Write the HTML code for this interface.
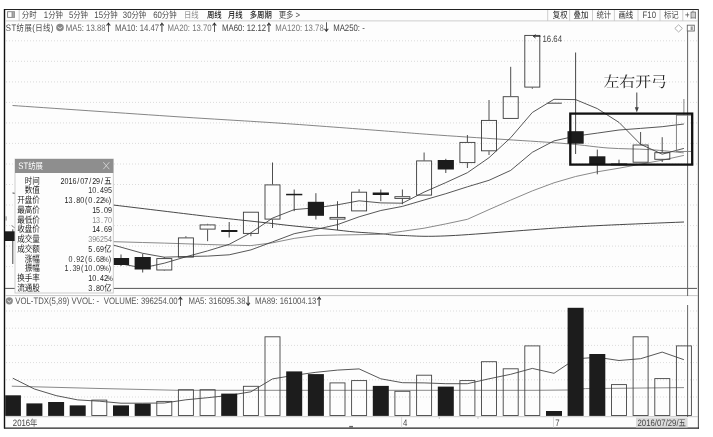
<!DOCTYPE html>
<html lang="zh"><head><meta charset="utf-8"><title>ST纺展(日线)</title>
<style>html,body{margin:0;padding:0;background:#fff}body{width:713px;height:437px;overflow:hidden}svg{display:block;text-rendering:geometricPrecision}text{font-family:"Liberation Sans","Noto Sans CJK SC",sans-serif}.ann{font-family:"Liberation Serif","Noto Serif CJK SC",serif;font-size:16.5px;fill:#222}</style></head><body>
<svg width="713" height="437" viewBox="0 0 713 437" style="will-change:transform">
<rect width="713" height="437" fill="#fff"/>
<rect x="5" y="9.5" width="693" height="418.5" fill="#fdfdfd"/>
<g stroke="#d2d2d2" stroke-width="0.8" stroke-dasharray="1 2"><line x1="6" x2="697" y1="40.8" y2="40.8"/><line x1="6" x2="697" y1="61.3" y2="61.3"/><line x1="6" x2="697" y1="81.9" y2="81.9"/><line x1="6" x2="697" y1="102.4" y2="102.4"/><line x1="6" x2="697" y1="122.9" y2="122.9"/><line x1="6" x2="697" y1="143.4" y2="143.4"/><line x1="6" x2="697" y1="164.0" y2="164.0"/><line x1="6" x2="697" y1="184.5" y2="184.5"/><line x1="6" x2="697" y1="205.0" y2="205.0"/><line x1="6" x2="697" y1="225.6" y2="225.6"/><line x1="6" x2="697" y1="246.1" y2="246.1"/><line x1="6" x2="697" y1="266.6" y2="266.6"/><line x1="6" x2="697" y1="311.0" y2="311.0"/><line x1="6" x2="697" y1="328.2" y2="328.2"/><line x1="6" x2="697" y1="345.4" y2="345.4"/><line x1="6" x2="697" y1="362.6" y2="362.6"/><line x1="6" x2="697" y1="379.8" y2="379.8"/><line x1="6" x2="697" y1="397.0" y2="397.0"/></g>
<line x1="4" x2="699" y1="9.5" y2="9.5" stroke="#222" stroke-width="1.2"/>
<line x1="4.5" x2="4.5" y1="9" y2="428.5" stroke="#111" stroke-width="1.4"/>
<line x1="698.4" x2="698.4" y1="9" y2="428.5" stroke="#555" stroke-width="1.1"/>
<line x1="4" x2="699" y1="428.1" y2="428.1" stroke="#222" stroke-width="1.3"/>
<line x1="5" x2="698" y1="20.9" y2="20.9" stroke="#c8c8c8" stroke-width="0.9"/>
<line x1="5" x2="697" y1="288.4" y2="288.4" stroke="#555" stroke-width="1"/>
<line x1="5" x2="698" y1="295.6" y2="295.6" stroke="#bdbdbd" stroke-width="0.9"/>
<line x1="5" x2="698" y1="416.7" y2="416.7" stroke="#bbb" stroke-width="0.8"/>
<path d="M687.6,31 V296 M687.6,305 V417" stroke="#666" stroke-width="1" fill="none"/>
<line x1="19.2" x2="19.2" y1="10" y2="21" stroke="#c8c8c8" stroke-width="0.9"/>
<line x1="547.7" x2="547.7" y1="10" y2="21" stroke="#c8c8c8" stroke-width="0.9"/>
<line x1="569.6" x2="569.6" y1="10" y2="21" stroke="#c8c8c8" stroke-width="0.9"/>
<line x1="592.5" x2="592.5" y1="10" y2="21" stroke="#c8c8c8" stroke-width="0.9"/>
<line x1="614.4" x2="614.4" y1="10" y2="21" stroke="#c8c8c8" stroke-width="0.9"/>
<line x1="638.0" x2="638.0" y1="10" y2="21" stroke="#c8c8c8" stroke-width="0.9"/>
<line x1="660.0" x2="660.0" y1="10" y2="21" stroke="#c8c8c8" stroke-width="0.9"/>
<line x1="682.8" x2="682.8" y1="10" y2="21" stroke="#c8c8c8" stroke-width="0.9"/>
<rect x="7.6" y="11.7" width="6.9" height="5.7" fill="none" stroke="#808080" stroke-width="0.9"/><rect x="12" y="12" width="2.4" height="5.2" fill="#a8a8a8"/><line x1="12" x2="12" y1="12" y2="17.2" stroke="#808080" stroke-width="0.8"/>
<text transform="translate(21.8,17.9) scale(0.83,1)" font-size="8.9" fill="#4a4a4a">分时</text>
<text transform="translate(43.8,17.9) scale(0.83,1)" font-size="8.9" fill="#4a4a4a"><tspan font-size="9.4">1</tspan>分钟</text>
<text transform="translate(68.9,17.9) scale(0.83,1)" font-size="8.9" fill="#4a4a4a"><tspan font-size="9.4">5</tspan>分钟</text>
<text transform="translate(94.3,17.9) scale(0.83,1)" font-size="8.9" fill="#4a4a4a"><tspan font-size="9.4">15</tspan>分钟</text>
<text transform="translate(122.8,17.9) scale(0.83,1)" font-size="8.9" fill="#4a4a4a"><tspan font-size="9.4">30</tspan>分钟</text>
<text transform="translate(153.2,17.9) scale(0.83,1)" font-size="8.9" fill="#4a4a4a"><tspan font-size="9.4">60</tspan>分钟</text>
<text transform="translate(184.0,17.9) scale(0.83,1)" font-size="8.9" fill="#8a8a8a">日线</text>
<text transform="translate(207.0,17.9) scale(0.83,1)" font-size="8.9" fill="#222" font-weight="500">周线</text>
<text transform="translate(228.0,17.9) scale(0.83,1)" font-size="8.9" fill="#222" font-weight="500">月线</text>
<text transform="translate(249.7,17.9) scale(0.83,1)" font-size="8.9" fill="#222" font-weight="500">多周期</text>
<text transform="translate(278.7,17.9) scale(0.83,1)" font-size="8.9" fill="#4a4a4a">更多<tspan font-size="9.4"> &gt;</tspan></text>
<text transform="translate(552.8,17.9) scale(0.83,1)" font-size="8.9" fill="#222">复权</text>
<text transform="translate(573.6,17.9) scale(0.83,1)" font-size="8.9" fill="#222">叠加</text>
<text transform="translate(596.4,17.9) scale(0.83,1)" font-size="8.9" fill="#4a4a4a">统计</text>
<text transform="translate(618.5,17.9) scale(0.83,1)" font-size="8.9" fill="#222">画线</text>
<text transform="translate(642.6,17.9) scale(0.83,1)" font-size="8.9" fill="#4a4a4a"><tspan font-size="9.4">F10</tspan></text>
<text transform="translate(664.0,17.9) scale(0.83,1)" font-size="8.9" fill="#4a4a4a">标记</text>
<text transform="translate(685.0,17.9) scale(0.83,1)" font-size="8.9" fill="#4a4a4a"><tspan font-size="9.4">+</tspan>自</text>
<text transform="translate(5.8,30.8) scale(0.83,1)" font-size="8.9" fill="#444" textLength="57.3"><tspan font-size="9.4">ST</tspan>纺展<tspan font-size="9.4">(</tspan>日线<tspan font-size="9.4">)</tspan></text>
<circle cx="60" cy="27.5" r="3.8" fill="#8a8a8a"/><polyline points="58,26.8 60,28.8 62,26.8" fill="none" stroke="#fff" stroke-width="0.9"/>
<text transform="translate(65.8,30.8) scale(0.83,1)" font-size="8.9" fill="#666"><tspan font-size="9.4">MA5: 13.88</tspan><tspan fill="#222" font-size="10" dx="-1.7" dy="0.4" stroke="#222" stroke-width="0.25" style="font-family:'Noto Sans CJK SC',sans-serif">↑</tspan></text>
<text transform="translate(115.0,30.8) scale(0.83,1)" font-size="8.9" fill="#555"><tspan font-size="9.4">MA10: 14.47</tspan><tspan fill="#222" font-size="10" dx="-1.7" dy="0.4" stroke="#222" stroke-width="0.25" style="font-family:'Noto Sans CJK SC',sans-serif">↑</tspan></text>
<text transform="translate(167.5,30.8) scale(0.83,1)" font-size="8.9" fill="#777"><tspan font-size="9.4">MA20: 13.70</tspan><tspan fill="#222" font-size="10" dx="-1.7" dy="0.4" stroke="#222" stroke-width="0.25" style="font-family:'Noto Sans CJK SC',sans-serif">↑</tspan></text>
<text transform="translate(222.0,30.8) scale(0.83,1)" font-size="8.9" fill="#444"><tspan font-size="9.4">MA60: 12.12</tspan><tspan fill="#222" font-size="10" dx="-1.7" dy="0.4" stroke="#222" stroke-width="0.25" style="font-family:'Noto Sans CJK SC',sans-serif">↑</tspan></text>
<text transform="translate(275.3,30.8) scale(0.83,1)" font-size="8.9" fill="#777"><tspan font-size="9.4">MA120: 13.78</tspan><tspan fill="#222" font-size="10" dx="-1.7" dy="0.4" stroke="#222" stroke-width="0.25" style="font-family:'Noto Sans CJK SC',sans-serif">↓</tspan></text>
<text transform="translate(333.2,30.8) scale(0.83,1)" font-size="8.9" fill="#444"><tspan font-size="9.4">MA250: -</tspan><tspan fill="#222" font-size="10" dx="-1.7" dy="0.4" stroke="#222" stroke-width="0.25" style="font-family:'Noto Sans CJK SC',sans-serif"></tspan></text>
<polygon points="678.6,24.8 682.4,28.4 678.6,32 674.8,28.4" fill="#fff" stroke="#999" stroke-width="0.8"/>
<rect x="687.3" y="25.2" width="7" height="5.8" fill="#fff" stroke="#666" stroke-width="0.9"/><rect x="690.6" y="26.4" width="2.2" height="3.6" fill="#999"/>
<path fill="none" stroke="#777" stroke-width="0.9" d="M12.5,105.5 C40.1,107.4 133.4,113.8 178.0,116.8 C222.6,119.7 246.3,120.9 280.0,123.2 C313.7,125.5 355.0,128.7 380.0,130.6 C405.0,132.5 409.2,133.0 430.0,134.5 C450.8,136.0 482.0,138.0 505.0,139.5 C528.0,141.0 550.8,142.3 568.0,143.8 C585.2,145.2 594.4,147.0 608.0,148.0 C621.6,149.0 636.9,148.8 649.5,149.6 C662.1,150.4 678.1,152.3 683.8,152.9"/>
<path fill="none" stroke="#333" stroke-width="0.9" d="M12.5,193.0 C29.4,195.0 82.7,201.3 113.9,205.1 C145.2,208.8 182.3,213.4 200.0,215.5 C217.7,217.6 210.2,216.7 220.0,217.8 C229.8,218.9 246.3,220.6 259.0,222.0 C271.7,223.4 284.2,225.0 296.0,226.2 C307.8,227.4 320.1,228.3 330.0,229.3 C339.9,230.3 346.9,231.3 355.4,232.0 C363.9,232.7 373.2,233.1 380.8,233.7 C388.4,234.3 389.5,235.1 401.0,235.4 C412.5,235.7 421.5,237.1 450.0,235.7 C478.5,234.3 533.0,229.3 572.0,227.0 C611.0,224.7 665.3,222.8 684.0,222.0"/>
<polyline fill="none" stroke="#8a8a8a" stroke-width="1.0" points="11.5,225.6 15.0,228.0 113.9,241.7 121.0,241.9 142.7,242.5 164.3,243.1 185.9,243.8 207.6,244.5 229.2,245.1 250.9,245.6 272.5,242.8 294.2,238.4 315.9,235.5 337.5,235.0 359.1,234.7 380.8,234.3 402.4,231.3 424.1,228.2 445.8,223.9 467.4,219.3 489.0,209.6 510.7,200.1 532.3,190.9 554.0,182.8 575.6,176.5 597.3,171.8 619.0,168.2 640.6,164.2 662.2,160.2 683.9,155.4"/>
<polyline fill="none" stroke="#444" stroke-width="0.9" points="99.3,241.2 121.0,247.2 142.7,253.3 164.3,257.2 185.9,256.5 207.6,256.1 229.2,254.8 250.9,249.9 272.5,241.9 294.2,233.7 315.9,229.4 337.5,224.6 359.1,216.8 380.8,210.5 402.4,206.4 424.1,200.0 445.8,193.7 467.4,186.8 489.0,180.3 510.7,170.4 532.3,152.3 554.0,140.9 575.6,136.1 597.3,133.1 619.0,130.0 640.6,128.4 662.2,126.7 683.9,124.0"/>
<polyline fill="none" stroke="#444" stroke-width="0.9" points="99.3,258.5 121.0,263.9 142.7,267.9 164.3,263.2 185.9,256.8 207.6,250.9 229.2,244.3 250.9,232.8 272.5,218.1 294.2,209.6 315.9,207.8 337.5,204.8 359.1,200.8 380.8,202.9 402.4,203.2 424.1,192.1 445.8,182.6 467.4,172.7 489.0,157.7 510.7,137.7 532.3,112.5 554.0,99.3 575.6,99.6 597.3,108.6 619.0,122.4 640.6,144.3 662.2,154.2 683.9,148.4"/>
<line x1="12.8" x2="12.8" y1="229.3" y2="264.0" stroke="#333" stroke-width="0.9"/>
<rect x="5.0" y="231.3" width="15.6" height="9.7" fill="#1c1c1c"/>
<line x1="121.0" x2="121.0" y1="254.5" y2="266.0" stroke="#333" stroke-width="0.9"/>
<rect x="112.9" y="258.0" width="16.2" height="7.0" fill="#1c1c1c"/>
<line x1="142.7" x2="142.7" y1="253.8" y2="272.5" stroke="#333" stroke-width="0.9"/>
<rect x="134.6" y="257.0" width="16.2" height="12.5" fill="#1c1c1c"/>
<line x1="164.3" x2="164.3" y1="257.0" y2="258.2" stroke="#3a3a3a" stroke-width="0.9"/>
<line x1="164.3" x2="164.3" y1="270.5" y2="271.0" stroke="#3a3a3a" stroke-width="0.9"/>
<rect x="156.8" y="258.6" width="15.0" height="11.4" fill="none" stroke="#3a3a3a" stroke-width="0.9"/>
<line x1="185.9" x2="185.9" y1="236.2" y2="237.5" stroke="#3a3a3a" stroke-width="0.9"/>
<rect x="178.4" y="237.9" width="15.0" height="19.2" fill="none" stroke="#3a3a3a" stroke-width="0.9"/>
<line x1="207.6" x2="207.6" y1="223.8" y2="224.5" stroke="#3a3a3a" stroke-width="0.9"/>
<line x1="207.6" x2="207.6" y1="229.5" y2="241.2" stroke="#3a3a3a" stroke-width="0.9"/>
<rect x="200.1" y="224.9" width="15.0" height="4.2" fill="none" stroke="#3a3a3a" stroke-width="0.9"/>
<line x1="229.2" x2="229.2" y1="222.0" y2="237.5" stroke="#333" stroke-width="0.9"/>
<rect x="221.2" y="230.0" width="16.2" height="2.0" fill="#1c1c1c"/>
<line x1="250.9" x2="250.9" y1="233.8" y2="236.2" stroke="#3a3a3a" stroke-width="0.9"/>
<rect x="243.4" y="212.2" width="15.0" height="21.2" fill="none" stroke="#3a3a3a" stroke-width="0.9"/>
<line x1="272.5" x2="272.5" y1="162.5" y2="184.5" stroke="#3a3a3a" stroke-width="0.9"/>
<line x1="272.5" x2="272.5" y1="219.5" y2="228.0" stroke="#3a3a3a" stroke-width="0.9"/>
<rect x="265.0" y="184.9" width="15.0" height="34.2" fill="none" stroke="#3a3a3a" stroke-width="0.9"/>
<line x1="294.2" x2="294.2" y1="189.5" y2="211.2" stroke="#333" stroke-width="0.9"/>
<rect x="286.1" y="193.8" width="16.2" height="1.5" fill="#1c1c1c"/>
<line x1="315.9" x2="315.9" y1="193.2" y2="219.5" stroke="#333" stroke-width="0.9"/>
<rect x="307.8" y="201.8" width="16.2" height="14.0" fill="#1c1c1c"/>
<line x1="337.5" x2="337.5" y1="201.2" y2="217.0" stroke="#3a3a3a" stroke-width="0.9"/>
<line x1="337.5" x2="337.5" y1="219.5" y2="230.0" stroke="#3a3a3a" stroke-width="0.9"/>
<rect x="330.0" y="217.4" width="15.0" height="1.7" fill="none" stroke="#3a3a3a" stroke-width="0.9"/>
<line x1="359.1" x2="359.1" y1="189.2" y2="191.8" stroke="#3a3a3a" stroke-width="0.9"/>
<rect x="351.6" y="192.2" width="15.0" height="18.7" fill="none" stroke="#3a3a3a" stroke-width="0.9"/>
<line x1="380.8" x2="380.8" y1="189.5" y2="201.2" stroke="#333" stroke-width="0.9"/>
<rect x="372.7" y="192.5" width="16.2" height="2.5" fill="#1c1c1c"/>
<line x1="402.4" x2="402.4" y1="189.5" y2="196.2" stroke="#3a3a3a" stroke-width="0.9"/>
<line x1="402.4" x2="402.4" y1="198.8" y2="204.2" stroke="#3a3a3a" stroke-width="0.9"/>
<rect x="394.9" y="196.7" width="15.0" height="1.7" fill="none" stroke="#3a3a3a" stroke-width="0.9"/>
<line x1="424.1" x2="424.1" y1="152.5" y2="160.5" stroke="#3a3a3a" stroke-width="0.9"/>
<rect x="416.6" y="160.9" width="15.0" height="34.2" fill="none" stroke="#3a3a3a" stroke-width="0.9"/>
<line x1="445.8" x2="445.8" y1="158.8" y2="173.0" stroke="#333" stroke-width="0.9"/>
<rect x="437.7" y="160.0" width="16.2" height="9.5" fill="#1c1c1c"/>
<line x1="467.4" x2="467.4" y1="135.0" y2="142.0" stroke="#3a3a3a" stroke-width="0.9"/>
<line x1="467.4" x2="467.4" y1="163.0" y2="168.0" stroke="#3a3a3a" stroke-width="0.9"/>
<rect x="459.9" y="142.4" width="15.0" height="20.2" fill="none" stroke="#3a3a3a" stroke-width="0.9"/>
<line x1="489.0" x2="489.0" y1="100.0" y2="120.0" stroke="#3a3a3a" stroke-width="0.9"/>
<line x1="489.0" x2="489.0" y1="151.2" y2="155.0" stroke="#3a3a3a" stroke-width="0.9"/>
<rect x="481.5" y="120.4" width="15.0" height="30.4" fill="none" stroke="#3a3a3a" stroke-width="0.9"/>
<line x1="510.7" x2="510.7" y1="66.8" y2="96.2" stroke="#3a3a3a" stroke-width="0.9"/>
<rect x="503.2" y="96.7" width="15.0" height="21.7" fill="none" stroke="#3a3a3a" stroke-width="0.9"/>
<line x1="532.3" x2="532.3" y1="87.5" y2="88.8" stroke="#3a3a3a" stroke-width="0.9"/>
<rect x="524.8" y="35.4" width="15.0" height="51.7" fill="none" stroke="#3a3a3a" stroke-width="0.9"/>
<line x1="575.6" x2="575.6" y1="52.5" y2="154.0" stroke="#333" stroke-width="0.9"/>
<rect x="567.5" y="131.2" width="16.2" height="12.5" fill="#1c1c1c"/>
<line x1="597.3" x2="597.3" y1="149.6" y2="174.3" stroke="#333" stroke-width="0.9"/>
<rect x="589.2" y="156.3" width="16.2" height="8.5" fill="#1c1c1c"/>
<line x1="619.0" x2="619.0" y1="159.7" y2="165.3" stroke="#333" stroke-width="0.9"/>
<rect x="610.9" y="163.5" width="16.2" height="1.8" fill="#1c1c1c"/>
<line x1="640.6" x2="640.6" y1="132.0" y2="144.6" stroke="#3a3a3a" stroke-width="0.9"/>
<rect x="633.1" y="145.0" width="15.0" height="17.2" fill="none" stroke="#3a3a3a" stroke-width="0.9"/>
<line x1="662.2" x2="662.2" y1="137.2" y2="152.3" stroke="#3a3a3a" stroke-width="0.9"/>
<line x1="662.2" x2="662.2" y1="159.7" y2="162.0" stroke="#3a3a3a" stroke-width="0.9"/>
<rect x="654.8" y="152.7" width="15.0" height="6.6" fill="none" stroke="#3a3a3a" stroke-width="0.9"/>
<line x1="683.9" x2="683.9" y1="99.0" y2="114.8" stroke="#777" stroke-width="0.9"/>
<rect x="676.4" y="115.2" width="15.0" height="36.2" fill="none" stroke="#777" stroke-width="0.9"/>
<line x1="547.5" x2="561.8" y1="103.2" y2="103.2" stroke="#444" stroke-width="1"/>
<text transform="translate(542.5,41.8) scale(0.83,1)" font-size="8.9" fill="#444"><tspan font-size="9.4">16.64</tspan></text>
<path d="M540.5,36.3 H533.4 M535.6,34.6 L533.4,36.3 L535.6,38" fill="none" stroke="#222" stroke-width="0.9"/>
<rect x="570.3" y="113.6" width="121.9" height="51" fill="none" stroke="#111" stroke-width="2.3"/>
<text class="ann" transform="translate(603.4,86.5) scale(1,0.94)" style="font-family:'Liberation Serif','Noto Serif CJK SC',serif;font-size:15.9px">左右开弓</text>
<path d="M636.8,92.5 V110" stroke="#444" stroke-width="1" fill="none"/><polygon points="634.8,107.2 638.8,107.2 636.8,112.6" fill="#444"/>
<rect x="5.3" y="216.3" width="1.4" height="4.3" fill="#999"/>
<circle cx="9.3" cy="300.8" r="3.6" fill="#8a8a8a"/><polyline points="7.4,300.2 9.3,302 11.2,300.2" fill="none" stroke="#fff" stroke-width="0.9"/>
<text transform="translate(15.3,304.2) scale(0.83,1)" font-size="8.9" fill="#555"><tspan font-size="9.4">VOL-TDX(5,89)</tspan><tspan fill="#222" font-size="10" dx="-1.7" dy="0.4" stroke="#222" stroke-width="0.25" style="font-family:'Noto Sans CJK SC',sans-serif"></tspan></text>
<text transform="translate(71.5,304.2) scale(0.83,1)" font-size="8.9" fill="#555"><tspan font-size="9.4">VVOL: -</tspan><tspan fill="#222" font-size="10" dx="-1.7" dy="0.4" stroke="#222" stroke-width="0.25" style="font-family:'Noto Sans CJK SC',sans-serif"></tspan></text>
<text transform="translate(103.7,304.2) scale(0.83,1)" font-size="8.9" fill="#555"><tspan font-size="9.4">VOLUME: 396254.00</tspan><tspan fill="#222" font-size="10" dx="-1.7" dy="0.4" stroke="#222" stroke-width="0.25" style="font-family:'Noto Sans CJK SC',sans-serif">↑</tspan></text>
<text transform="translate(188.4,304.2) scale(0.83,1)" font-size="8.9" fill="#555"><tspan font-size="9.4">MA5: 316095.38</tspan><tspan fill="#222" font-size="10" dx="-1.7" dy="0.4" stroke="#222" stroke-width="0.25" style="font-family:'Noto Sans CJK SC',sans-serif">↓</tspan></text>
<text transform="translate(255.0,304.2) scale(0.83,1)" font-size="8.9" fill="#555"><tspan font-size="9.4">MA89: 161004.13</tspan><tspan fill="#222" font-size="10" dx="-1.7" dy="0.4" stroke="#222" stroke-width="0.25" style="font-family:'Noto Sans CJK SC',sans-serif">↑</tspan></text>
<polyline fill="none" stroke="#7a7a7a" stroke-width="0.9" points="11.8,386.2 100.0,388.5 178.0,390.3 535.0,390.3 567.6,390.0 585.5,388.6 684.0,387.6"/>
<polyline fill="none" stroke="#444" stroke-width="0.9" points="12.8,378.2 34.4,389.0 56.1,395.6 77.7,399.9 99.3,401.2 121.0,403.2 142.7,403.2 164.3,403.0 185.9,399.8 207.6,397.7 229.2,395.4 250.9,391.8 272.5,378.9 294.2,375.3 315.9,372.3 337.5,370.1 359.1,368.9 380.8,378.8 402.4,382.7 424.1,382.9 445.8,383.7 467.4,383.7 489.0,378.8 510.7,374.3 532.3,368.4 554.0,373.3 575.6,358.8 597.3,357.3 619.0,360.5 640.6,358.7 662.2,352.1 683.9,359.7"/>
<rect x="5.2" y="395.3" width="15.7" height="20.6" fill="#1c1c1c"/>
<rect x="26.4" y="403.4" width="16.0" height="12.5" fill="#1c1c1c"/>
<rect x="48.1" y="402.0" width="16.0" height="13.9" fill="#1c1c1c"/>
<rect x="69.7" y="405.4" width="16.0" height="10.5" fill="#1c1c1c"/>
<rect x="91.8" y="400.1" width="15.0" height="15.4" fill="none" stroke="#444" stroke-width="0.9"/>
<rect x="113.0" y="405.4" width="16.0" height="10.5" fill="#1c1c1c"/>
<rect x="134.7" y="403.7" width="16.0" height="12.2" fill="#1c1c1c"/>
<rect x="156.8" y="401.4" width="15.0" height="14.1" fill="none" stroke="#444" stroke-width="0.9"/>
<rect x="178.4" y="389.7" width="15.0" height="25.8" fill="none" stroke="#444" stroke-width="0.9"/>
<rect x="200.1" y="389.7" width="15.0" height="25.8" fill="none" stroke="#444" stroke-width="0.9"/>
<rect x="221.2" y="393.6" width="16.0" height="22.3" fill="#1c1c1c"/>
<rect x="243.4" y="386.3" width="15.0" height="29.2" fill="none" stroke="#444" stroke-width="0.9"/>
<rect x="265.0" y="336.8" width="15.0" height="78.7" fill="none" stroke="#444" stroke-width="0.9"/>
<rect x="286.2" y="371.4" width="16.0" height="44.5" fill="#1c1c1c"/>
<rect x="307.9" y="374.1" width="16.0" height="41.8" fill="#1c1c1c"/>
<rect x="330.0" y="382.9" width="15.0" height="32.6" fill="none" stroke="#444" stroke-width="0.9"/>
<rect x="351.6" y="380.6" width="15.0" height="34.9" fill="none" stroke="#444" stroke-width="0.9"/>
<rect x="372.8" y="385.9" width="16.0" height="30.0" fill="#1c1c1c"/>
<rect x="394.9" y="391.3" width="15.0" height="24.2" fill="none" stroke="#444" stroke-width="0.9"/>
<rect x="416.6" y="375.2" width="15.0" height="40.3" fill="none" stroke="#444" stroke-width="0.9"/>
<rect x="437.8" y="386.6" width="16.0" height="29.3" fill="#1c1c1c"/>
<rect x="459.9" y="380.6" width="15.0" height="34.9" fill="none" stroke="#444" stroke-width="0.9"/>
<rect x="481.5" y="361.7" width="15.0" height="53.8" fill="none" stroke="#444" stroke-width="0.9"/>
<rect x="503.2" y="368.8" width="15.0" height="46.7" fill="none" stroke="#444" stroke-width="0.9"/>
<rect x="524.8" y="345.9" width="15.0" height="69.6" fill="none" stroke="#444" stroke-width="0.9"/>
<rect x="546.0" y="411.0" width="16.0" height="4.9" fill="#1c1c1c"/>
<rect x="567.6" y="307.8" width="16.0" height="108.1" fill="#1c1c1c"/>
<rect x="589.3" y="354.0" width="16.0" height="61.9" fill="#1c1c1c"/>
<rect x="611.5" y="384.6" width="15.0" height="30.9" fill="none" stroke="#444" stroke-width="0.9"/>
<rect x="633.1" y="336.8" width="15.0" height="78.7" fill="none" stroke="#444" stroke-width="0.9"/>
<rect x="654.8" y="378.6" width="15.0" height="36.9" fill="none" stroke="#444" stroke-width="0.9"/>
<rect x="676.4" y="345.9" width="15.0" height="69.6" fill="none" stroke="#444" stroke-width="0.9"/>
<rect x="636" y="417.6" width="51.6" height="9.9" fill="#dcdcdc"/>
<text transform="translate(12.8,426.0) scale(0.83,1)" font-size="8.9" fill="#444"><tspan font-size="9.4">2016</tspan>年</text>
<text transform="translate(403.0,426.0) scale(0.83,1)" font-size="8.9" fill="#444"><tspan font-size="9.4">4</tspan></text>
<text transform="translate(555.2,426.0) scale(0.83,1)" font-size="8.9" fill="#444"><tspan font-size="9.4">7</tspan></text>
<text transform="translate(637.5,426.3) scale(0.83,1)" font-size="8.9" fill="#444"><tspan font-size="9.4">2016/07/29/</tspan>五</text>
<line x1="401.6" x2="401.6" y1="417" y2="427.5" stroke="#d0d0d0" stroke-width="0.8"/>
<line x1="553.5" x2="553.5" y1="417" y2="427.5" stroke="#d0d0d0" stroke-width="0.8"/>
<line x1="439.3" x2="439.3" y1="417" y2="419" stroke="#bbb" stroke-width="0.8"/>
<line x1="478.0" x2="478.0" y1="417" y2="419" stroke="#bbb" stroke-width="0.8"/>
<rect x="349.2" y="425.9" width="3.8" height="1.7" fill="#666"/>
<rect x="15" y="159" width="98.3" height="134" fill="#fdfdfd" stroke="#c8c8c8" stroke-width="0.9"/>
<rect x="15" y="159" width="98.3" height="14" fill="#8e8e8e"/>
<text transform="translate(18.2,169.4) scale(0.83,1)" font-size="8.9" fill="#fff"><tspan font-size="9.4">ST</tspan>纺展</text>
<path d="M103.3,162.2 L109.3,169.2 M109.3,162.2 L103.3,169.2" stroke="#ddd" stroke-width="0.8" fill="none"/>
<text transform="translate(39.8,183.5) scale(0.83,1)" font-size="9.1" fill="#222" text-anchor="end">时间</text>
<text transform="translate(111.9,183.5) scale(0.83,1)" font-size="8.6" fill="#222" x="-61.88 -57.12 -52.36 -47.60 -41.65 -38.08 -33.32 -27.37 -23.81 -19.05 -13.09 -9.21">2016/07/29/<tspan font-size="8.9">五</tspan></text>
<text transform="translate(39.8,193.3) scale(0.83,1)" font-size="9.1" fill="#222" text-anchor="end">数值</text>
<text transform="translate(111.9,193.3) scale(0.83,1)" font-size="8.6" fill="#333" x="-28.57 -23.81 -17.85 -14.29 -9.53 -4.77">10.495</text>
<text transform="translate(39.8,203.1) scale(0.83,1)" font-size="9.1" fill="#222" text-anchor="end">开盘价</text>
<text transform="translate(111.9,203.1) scale(0.83,1)" font-size="8.6" fill="#222" x="-57.12 -52.36 -46.41 -42.84 -38.08 -32.37 -28.57 -22.61 -19.05 -14.29 -10.61 -3.81">13.80(0.22<tspan font-size="7.8">%</tspan>)</text>
<text transform="translate(39.8,212.8) scale(0.83,1)" font-size="9.1" fill="#222" text-anchor="end">最高价</text>
<text transform="translate(111.9,212.8) scale(0.83,1)" font-size="8.6" fill="#222" x="-23.81 -19.05 -13.09 -9.53 -4.77">15.09</text>
<text transform="translate(39.8,222.6) scale(0.83,1)" font-size="9.1" fill="#222" text-anchor="end">最低价</text>
<text transform="translate(111.9,222.6) scale(0.83,1)" font-size="8.6" fill="#888" x="-23.81 -19.05 -13.09 -9.53 -4.77">13.70</text>
<text transform="translate(39.8,232.3) scale(0.83,1)" font-size="9.1" fill="#222" text-anchor="end">收盘价</text>
<text transform="translate(111.9,232.3) scale(0.83,1)" font-size="8.6" fill="#222" x="-23.81 -19.05 -13.09 -9.53 -4.77">14.69</text>
<text transform="translate(39.8,242.1) scale(0.83,1)" font-size="9.1" fill="#222" text-anchor="end">成交量</text>
<text transform="translate(111.9,242.1) scale(0.83,1)" font-size="8.6" fill="#888" x="-28.57 -23.81 -19.05 -14.29 -9.53 -4.77">396254</text>
<text transform="translate(39.8,251.9) scale(0.83,1)" font-size="9.1" fill="#222" text-anchor="end">成交额</text>
<text transform="translate(111.9,251.9) scale(0.83,1)" font-size="8.6" fill="#222" x="-28.57 -22.61 -19.05 -14.29 -9.21">5.69<tspan font-size="8.9">亿</tspan></text>
<text transform="translate(39.8,261.6) scale(0.83,1)" font-size="9.1" fill="#222" text-anchor="end">涨幅</text>
<text transform="translate(111.9,261.6) scale(0.83,1)" font-size="8.6" fill="#333" x="-52.36 -46.41 -42.84 -38.08 -32.37 -28.57 -22.61 -19.05 -14.29 -10.61 -3.81">0.92(6.68<tspan font-size="7.8">%</tspan>)</text>
<text transform="translate(39.8,271.4) scale(0.83,1)" font-size="9.1" fill="#222" text-anchor="end">振幅</text>
<text transform="translate(111.9,271.4) scale(0.83,1)" font-size="8.6" fill="#333" x="-57.12 -51.17 -47.60 -42.84 -37.12 -33.32 -28.57 -22.61 -19.05 -14.29 -10.61 -3.81">1.39(10.09<tspan font-size="7.8">%</tspan>)</text>
<text transform="translate(39.8,281.1) scale(0.83,1)" font-size="9.1" fill="#222" text-anchor="end">换手率</text>
<text transform="translate(111.9,281.1) scale(0.83,1)" font-size="8.6" fill="#222" x="-28.57 -23.81 -17.85 -14.29 -9.53 -5.85">10.42<tspan font-size="7.8">%</tspan></text>
<text transform="translate(39.8,290.9) scale(0.83,1)" font-size="9.1" fill="#222" text-anchor="end">流通股</text>
<text transform="translate(111.9,290.9) scale(0.83,1)" font-size="8.6" fill="#222" x="-28.57 -22.61 -19.05 -14.29 -9.21">3.80<tspan font-size="8.9">亿</tspan></text>
</svg></body></html>
